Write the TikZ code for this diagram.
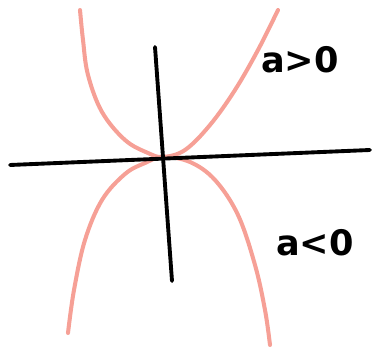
\documentclass[tikz,border=0pt]{standalone}
\usepackage{fontspec}
\setmainfont{DejaVu Sans}
\definecolor{curvepink}{RGB}{246,160,150}
\begin{document}
\begin{tikzpicture}[x=0.02cm,y=-0.02cm]
  \useasboundingbox (0,0) rectangle (372,350);
  \coordinate (xl) at (10,165);
  \coordinate (xr) at (370,150);
  \coordinate (yt) at (155,47);
  \coordinate (yb) at (172,281);
  \draw[line width=2.3pt,curvepink,line cap=round]
    plot[smooth,tension=0.6] coordinates {(80,10) (83,40) (88,75) (102,112) (125,140) (148,153) (163,157)
      (185,150) (210,125) (235,90) (258,50) (278,10)};
  \draw[line width=2.3pt,curvepink,line cap=round]
    plot[smooth,tension=0.6] coordinates {(68,333) (74,290) (85,240) (102,200) (125,174) (145,163) (163,157)
      (190,162) (215,180) (238,215) (255,265) (265,310) (270,345)};
  \draw[line width=2.2pt,line cap=round] (xl) -- (xr);
  \draw[line width=2.2pt,line cap=round] (yt) -- (yb);
  \node[font=\bfseries\fontsize{20}{20}\selectfont] (apos) at (300,60) {a>0};
  \node[font=\bfseries\fontsize{20}{20}\selectfont] (aneg) at (315,243) {a<0};
\end{tikzpicture}
\end{document}
